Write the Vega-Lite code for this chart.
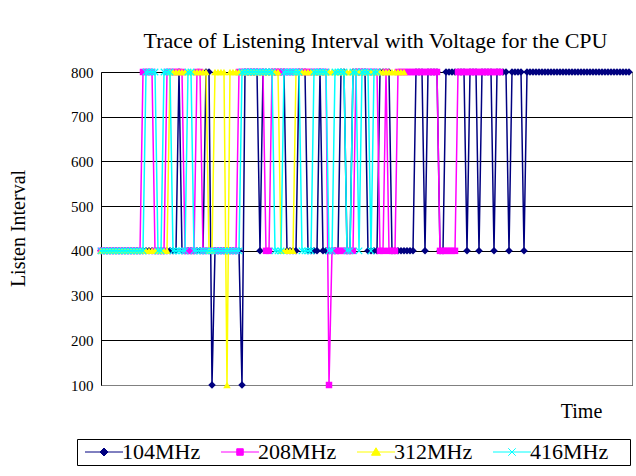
{
"$schema": "https://vega.github.io/schema/vega-lite/v6.json",
"width": 531,
"height": 313,
"autosize": {"type": "none"},
"padding": {"left": 101, "top": 72, "right": 4, "bottom": 91},
"background": "white",
"title": {"text": "Trace of Listening Interval with Voltage for the CPU", "font": "Liberation Serif", "fontSize": 22, "fontWeight": "normal", "color": "black", "anchor": "middle", "dx": 9, "offset": 12},
"config": {"view": {"stroke": "#808080", "strokeWidth": 1}},
"datasets": {
"f104": [{"t":0,"v":400},{"t":1,"v":400},{"t":2,"v":400},{"t":3,"v":400},{"t":4,"v":400},{"t":5,"v":400},{"t":6,"v":400},{"t":7,"v":400},{"t":8,"v":400},{"t":9,"v":400},{"t":10,"v":400},{"t":11,"v":400},{"t":12,"v":400},{"t":13,"v":400},{"t":14,"v":400},{"t":15,"v":400},{"t":16,"v":400},{"t":17,"v":400},{"t":18,"v":400},{"t":19,"v":400},{"t":20,"v":400},{"t":21,"v":400},{"t":22,"v":400},{"t":23,"v":400},{"t":24,"v":400},{"t":25,"v":400},{"t":26,"v":800},{"t":27,"v":400},{"t":28,"v":400},{"t":29,"v":400},{"t":30,"v":400},{"t":31,"v":400},{"t":32,"v":400},{"t":33,"v":400},{"t":34,"v":400},{"t":35,"v":800},{"t":36,"v":800},{"t":37,"v":100},{"t":38,"v":400},{"t":39,"v":400},{"t":40,"v":400},{"t":41,"v":400},{"t":42,"v":400},{"t":43,"v":400},{"t":44,"v":400},{"t":45,"v":400},{"t":46,"v":400},{"t":47,"v":100},{"t":48,"v":800},{"t":49,"v":800},{"t":50,"v":800},{"t":51,"v":800},{"t":52,"v":800},{"t":53,"v":400},{"t":54,"v":800},{"t":55,"v":800},{"t":56,"v":800},{"t":57,"v":800},{"t":58,"v":800},{"t":59,"v":800},{"t":60,"v":800},{"t":61,"v":800},{"t":62,"v":400},{"t":63,"v":400},{"t":64,"v":400},{"t":65,"v":400},{"t":66,"v":800},{"t":67,"v":800},{"t":68,"v":800},{"t":69,"v":400},{"t":70,"v":400},{"t":71,"v":400},{"t":72,"v":400},{"t":73,"v":800},{"t":74,"v":400},{"t":75,"v":400},{"t":76,"v":400},{"t":77,"v":400},{"t":78,"v":400},{"t":79,"v":400},{"t":80,"v":800},{"t":81,"v":800},{"t":82,"v":400},{"t":83,"v":400},{"t":84,"v":800},{"t":85,"v":800},{"t":86,"v":800},{"t":87,"v":800},{"t":88,"v":800},{"t":89,"v":400},{"t":90,"v":400},{"t":91,"v":400},{"t":92,"v":400},{"t":93,"v":800},{"t":94,"v":800},{"t":95,"v":800},{"t":96,"v":800},{"t":97,"v":400},{"t":98,"v":400},{"t":99,"v":400},{"t":100,"v":400},{"t":101,"v":400},{"t":102,"v":400},{"t":103,"v":400},{"t":104,"v":400},{"t":105,"v":800},{"t":106,"v":800},{"t":107,"v":800},{"t":108,"v":400},{"t":109,"v":800},{"t":110,"v":800},{"t":111,"v":800},{"t":112,"v":800},{"t":113,"v":400},{"t":114,"v":400},{"t":115,"v":800},{"t":116,"v":800},{"t":117,"v":800},{"t":118,"v":800},{"t":119,"v":800},{"t":120,"v":800},{"t":121,"v":800},{"t":122,"v":400},{"t":123,"v":800},{"t":124,"v":800},{"t":125,"v":800},{"t":126,"v":400},{"t":127,"v":800},{"t":128,"v":800},{"t":129,"v":800},{"t":130,"v":800},{"t":131,"v":400},{"t":132,"v":800},{"t":133,"v":800},{"t":134,"v":800},{"t":135,"v":800},{"t":136,"v":400},{"t":137,"v":800},{"t":138,"v":800},{"t":139,"v":800},{"t":140,"v":800},{"t":141,"v":400},{"t":142,"v":800},{"t":143,"v":800},{"t":144,"v":800},{"t":145,"v":800},{"t":146,"v":800},{"t":147,"v":800},{"t":148,"v":800},{"t":149,"v":800},{"t":150,"v":800},{"t":151,"v":800},{"t":152,"v":800},{"t":153,"v":800},{"t":154,"v":800},{"t":155,"v":800},{"t":156,"v":800},{"t":157,"v":800},{"t":158,"v":800},{"t":159,"v":800},{"t":160,"v":800},{"t":161,"v":800},{"t":162,"v":800},{"t":163,"v":800},{"t":164,"v":800},{"t":165,"v":800},{"t":166,"v":800},{"t":167,"v":800},{"t":168,"v":800},{"t":169,"v":800},{"t":170,"v":800},{"t":171,"v":800},{"t":172,"v":800},{"t":173,"v":800},{"t":174,"v":800},{"t":175,"v":800},{"t":176,"v":800}],
"f208": [{"t":0,"v":400},{"t":1,"v":400},{"t":2,"v":400},{"t":3,"v":400},{"t":4,"v":400},{"t":5,"v":400},{"t":6,"v":400},{"t":7,"v":400},{"t":8,"v":400},{"t":9,"v":400},{"t":10,"v":400},{"t":11,"v":400},{"t":12,"v":400},{"t":13,"v":400},{"t":14,"v":800},{"t":15,"v":800},{"t":16,"v":800},{"t":17,"v":800},{"t":18,"v":400},{"t":19,"v":400},{"t":20,"v":400},{"t":21,"v":400},{"t":22,"v":800},{"t":23,"v":800},{"t":24,"v":800},{"t":25,"v":800},{"t":26,"v":800},{"t":27,"v":800},{"t":28,"v":400},{"t":29,"v":400},{"t":30,"v":400},{"t":31,"v":400},{"t":32,"v":800},{"t":33,"v":800},{"t":34,"v":400},{"t":35,"v":400},{"t":36,"v":400},{"t":37,"v":400},{"t":38,"v":400},{"t":39,"v":400},{"t":40,"v":400},{"t":41,"v":400},{"t":42,"v":400},{"t":43,"v":400},{"t":44,"v":400},{"t":45,"v":400},{"t":46,"v":800},{"t":47,"v":800},{"t":48,"v":800},{"t":49,"v":800},{"t":50,"v":800},{"t":51,"v":800},{"t":52,"v":800},{"t":53,"v":800},{"t":54,"v":800},{"t":55,"v":400},{"t":56,"v":400},{"t":57,"v":800},{"t":58,"v":800},{"t":59,"v":800},{"t":60,"v":800},{"t":61,"v":800},{"t":62,"v":800},{"t":63,"v":800},{"t":64,"v":800},{"t":65,"v":800},{"t":66,"v":800},{"t":67,"v":800},{"t":68,"v":800},{"t":69,"v":800},{"t":70,"v":800},{"t":71,"v":800},{"t":72,"v":800},{"t":73,"v":800},{"t":74,"v":800},{"t":75,"v":800},{"t":76,"v":100},{"t":77,"v":400},{"t":78,"v":400},{"t":79,"v":400},{"t":80,"v":400},{"t":81,"v":400},{"t":82,"v":400},{"t":83,"v":400},{"t":84,"v":400},{"t":85,"v":800},{"t":86,"v":800},{"t":87,"v":800},{"t":88,"v":800},{"t":89,"v":800},{"t":90,"v":800},{"t":91,"v":800},{"t":92,"v":800},{"t":93,"v":400},{"t":94,"v":400},{"t":95,"v":800},{"t":96,"v":400},{"t":97,"v":400},{"t":98,"v":400},{"t":99,"v":800},{"t":100,"v":800},{"t":101,"v":800},{"t":102,"v":800},{"t":103,"v":800},{"t":104,"v":800},{"t":105,"v":800},{"t":106,"v":800},{"t":107,"v":800},{"t":108,"v":800},{"t":109,"v":800},{"t":110,"v":800},{"t":111,"v":800},{"t":112,"v":800},{"t":113,"v":400},{"t":114,"v":400},{"t":115,"v":400},{"t":116,"v":400},{"t":117,"v":400},{"t":118,"v":400},{"t":119,"v":800},{"t":120,"v":800},{"t":121,"v":800},{"t":122,"v":800},{"t":123,"v":800},{"t":124,"v":800},{"t":125,"v":800},{"t":126,"v":800},{"t":127,"v":800},{"t":128,"v":800},{"t":129,"v":800},{"t":130,"v":800},{"t":131,"v":800},{"t":132,"v":800},{"t":133,"v":800}],
"f312": [{"t":0,"v":400},{"t":1,"v":400},{"t":2,"v":400},{"t":3,"v":400},{"t":4,"v":400},{"t":5,"v":400},{"t":6,"v":400},{"t":7,"v":400},{"t":8,"v":400},{"t":9,"v":400},{"t":10,"v":400},{"t":11,"v":400},{"t":12,"v":400},{"t":13,"v":400},{"t":14,"v":400},{"t":15,"v":400},{"t":16,"v":400},{"t":17,"v":400},{"t":18,"v":400},{"t":19,"v":400},{"t":20,"v":400},{"t":21,"v":400},{"t":22,"v":400},{"t":23,"v":800},{"t":24,"v":800},{"t":25,"v":800},{"t":26,"v":800},{"t":27,"v":800},{"t":28,"v":800},{"t":29,"v":800},{"t":30,"v":800},{"t":31,"v":800},{"t":32,"v":800},{"t":33,"v":800},{"t":34,"v":800},{"t":35,"v":800},{"t":36,"v":400},{"t":37,"v":400},{"t":38,"v":800},{"t":39,"v":800},{"t":40,"v":800},{"t":41,"v":800},{"t":42,"v":100},{"t":43,"v":800},{"t":44,"v":800},{"t":45,"v":800},{"t":46,"v":800},{"t":47,"v":800},{"t":48,"v":800},{"t":49,"v":800},{"t":50,"v":800},{"t":51,"v":800},{"t":52,"v":800},{"t":53,"v":800},{"t":54,"v":800},{"t":55,"v":800},{"t":56,"v":800},{"t":57,"v":800},{"t":58,"v":800},{"t":59,"v":800},{"t":60,"v":400},{"t":61,"v":400},{"t":62,"v":400},{"t":63,"v":400},{"t":64,"v":400},{"t":65,"v":800},{"t":66,"v":800},{"t":67,"v":800},{"t":68,"v":800},{"t":69,"v":800},{"t":70,"v":800},{"t":71,"v":800},{"t":72,"v":800},{"t":73,"v":800},{"t":74,"v":800},{"t":75,"v":800},{"t":76,"v":800},{"t":77,"v":800},{"t":78,"v":800},{"t":79,"v":800},{"t":80,"v":800},{"t":81,"v":800},{"t":82,"v":800},{"t":83,"v":800},{"t":84,"v":800},{"t":85,"v":800},{"t":86,"v":800},{"t":87,"v":800},{"t":88,"v":800},{"t":89,"v":800},{"t":90,"v":800},{"t":91,"v":800},{"t":92,"v":800},{"t":93,"v":800},{"t":94,"v":800},{"t":95,"v":800},{"t":96,"v":800},{"t":97,"v":800},{"t":98,"v":800},{"t":99,"v":800},{"t":100,"v":800},{"t":101,"v":800}],
"f416": [{"t":0,"v":400},{"t":1,"v":400},{"t":2,"v":400},{"t":3,"v":400},{"t":4,"v":400},{"t":5,"v":400},{"t":6,"v":400},{"t":7,"v":400},{"t":8,"v":400},{"t":9,"v":400},{"t":10,"v":400},{"t":11,"v":400},{"t":12,"v":400},{"t":13,"v":400},{"t":14,"v":400},{"t":15,"v":800},{"t":16,"v":800},{"t":17,"v":800},{"t":18,"v":800},{"t":19,"v":400},{"t":20,"v":400},{"t":21,"v":800},{"t":22,"v":800},{"t":23,"v":800},{"t":24,"v":400},{"t":25,"v":400},{"t":26,"v":400},{"t":27,"v":400},{"t":28,"v":400},{"t":29,"v":800},{"t":30,"v":800},{"t":31,"v":400},{"t":32,"v":400},{"t":33,"v":400},{"t":34,"v":400},{"t":35,"v":400},{"t":36,"v":400},{"t":37,"v":400},{"t":38,"v":400},{"t":39,"v":400},{"t":40,"v":400},{"t":41,"v":400},{"t":42,"v":400},{"t":43,"v":400},{"t":44,"v":400},{"t":45,"v":400},{"t":46,"v":400},{"t":47,"v":800},{"t":48,"v":800},{"t":49,"v":800},{"t":50,"v":800},{"t":51,"v":800},{"t":52,"v":800},{"t":53,"v":800},{"t":54,"v":800},{"t":55,"v":800},{"t":56,"v":800},{"t":57,"v":800},{"t":58,"v":400},{"t":59,"v":400},{"t":60,"v":400},{"t":61,"v":800},{"t":62,"v":800},{"t":63,"v":800},{"t":64,"v":800},{"t":65,"v":800},{"t":66,"v":800},{"t":67,"v":400},{"t":68,"v":400},{"t":69,"v":400},{"t":70,"v":400},{"t":71,"v":800},{"t":72,"v":800},{"t":73,"v":800},{"t":74,"v":800},{"t":75,"v":800},{"t":76,"v":400},{"t":77,"v":400},{"t":78,"v":800},{"t":79,"v":800},{"t":80,"v":800},{"t":81,"v":800},{"t":82,"v":400},{"t":83,"v":400},{"t":84,"v":800},{"t":85,"v":800},{"t":86,"v":400},{"t":87,"v":800},{"t":88,"v":800},{"t":89,"v":800},{"t":90,"v":400},{"t":91,"v":800},{"t":92,"v":800}],
"series": [{"s":"104MHz"},{"s":"208MHz"},{"s":"312MHz"},{"s":"416MHz"}]
},
"encoding": {
  "x": {"field": "t", "type": "quantitative", "scale": {"domain": [0, 177], "nice": false, "zero": false},
        "axis": {"labels": false, "ticks": false, "grid": false, "domainColor": "#808080", "title": "Time", "titleFont": "Liberation Serif", "titleFontSize": 20, "titleFontWeight": "normal", "titleColor": "black", "titleX": 480, "titleY": 32, "titleAlign": "center", "titleBaseline": "alphabetic"}},
  "y": {"field": "v", "type": "quantitative", "scale": {"domain": [100, 800], "nice": false, "zero": false},
        "axis": {"values": [100, 200, 300, 400, 500, 600, 700, 800], "grid": true, "gridColor": "black", "gridWidth": 1, "domainColor": "black", "ticks": false, "labelFont": "Liberation Serif", "labelFontSize": 15, "labelColor": "black", "labelPadding": 8, "title": "Listen Interval", "titleFont": "Liberation Serif", "titleFontSize": 20, "titleFontWeight": "normal", "titleColor": "black", "titleX": -83, "titleY": 156, "titleAlign": "center", "titleBaseline": "middle", "titleAngle": -90}}
},
"layer": [
  {"data": {"name": "f104"}, "mark": {"type": "line", "strokeWidth": 1.5, "point": {"shape": "diamond", "size": 56, "filled": true}},
   "encoding": {"color": {"datum": "104MHz", "type": "nominal",
     "scale": {"domain": ["104MHz", "208MHz", "312MHz", "416MHz"], "range": ["#000080", "#FF00FF", "#FFFF00", "#00FFFF"]}}}},
  {"data": {"name": "f208"}, "mark": {"type": "line", "strokeWidth": 1.5, "point": {"shape": "square", "size": 42, "filled": true}},
   "encoding": {"color": {"datum": "208MHz", "type": "nominal"}}},
  {"data": {"name": "f312"}, "mark": {"type": "line", "strokeWidth": 1.5, "point": {"shape": "triangle-up", "size": 56, "filled": true}},
   "encoding": {"color": {"datum": "312MHz", "type": "nominal"}}},
  {"data": {"name": "f416"}, "mark": {"type": "line", "strokeWidth": 1.5, "point": {"shape": "M-1,-1L1,1M-1,1L1,-1", "size": 42, "filled": false, "strokeWidth": 1.2}},
   "encoding": {"color": {"datum": "416MHz", "type": "nominal"}}},
  {"data": {"name": "series"}, "mark": {"type": "point", "filled": true, "opacity": 0, "strokeWidth": 1},
   "encoding": {
     "x": {"datum": 0, "type": "quantitative"},
     "y": {"datum": 400, "type": "quantitative"},
     "color": {"field": "s", "type": "nominal",
       "legend": {"orient": "none", "legendX": -24, "legendY": 367, "direction": "horizontal", "title": " ", "titleOrient": "right", "titlePadding": 20, "titleFontSize": 2, "strokeColor": "black", "fillColor": "white", "padding": 2, "symbolSize": 100, "symbolStrokeWidth": 1, "symbolOpacity": 1, "labelFont": "Liberation Serif", "labelFontSize": 22, "labelColor": "black", "labelOffset": 21, "columnPadding": 14, "labelLimit": 200}},
     "shape": {"field": "s", "type": "nominal",
       "scale": {"domain": ["104MHz", "208MHz", "312MHz", "416MHz"], "range": ["M-1,0L6.6,0M2.8,-0.8L3.6,0L2.8,0.8L2,0Z", "M-1,0L6.6,0M2.15,-0.65L3.45,-0.65L3.45,0.65L2.15,0.65Z", "M-1,0L6.6,0M2.8,-0.85L3.7,0.65L1.9,0.65Z", "M-1,0L6.6,0M2.05,-0.75L3.55,0.75M2.05,0.75L3.55,-0.75"]},
       "legend": {"orient": "none", "legendX": -24, "legendY": 367, "direction": "horizontal", "title": " ", "titleOrient": "right", "titlePadding": 20, "titleFontSize": 2, "strokeColor": "black", "fillColor": "white", "padding": 2, "symbolSize": 100, "symbolStrokeWidth": 1, "symbolOpacity": 1, "labelFont": "Liberation Serif", "labelFontSize": 22, "labelColor": "black", "labelOffset": 21, "columnPadding": 14, "labelLimit": 200}},
     "stroke": {"field": "s", "type": "nominal",
       "scale": {"domain": ["104MHz", "208MHz", "312MHz", "416MHz"], "range": ["#000080", "#FF00FF", "#FFFF00", "#00FFFF"]},
       "legend": {"orient": "none", "legendX": -24, "legendY": 367, "direction": "horizontal", "title": " ", "titleOrient": "right", "titlePadding": 20, "titleFontSize": 2, "strokeColor": "black", "fillColor": "white", "padding": 2, "symbolSize": 100, "symbolStrokeWidth": 1, "symbolOpacity": 1, "labelFont": "Liberation Serif", "labelFontSize": 22, "labelColor": "black", "labelOffset": 21, "columnPadding": 14, "labelLimit": 200}}
   }}
]
}
